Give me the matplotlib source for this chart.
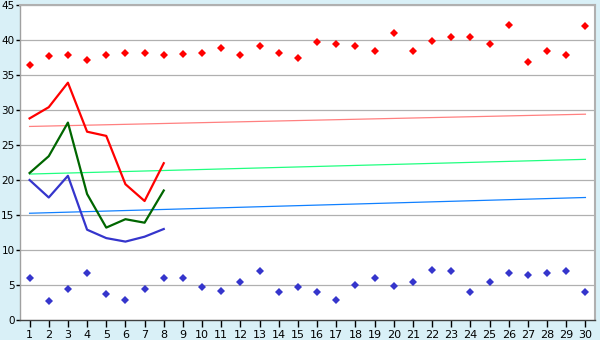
"""measured series with scatter bands and linear trends"""

from matplotlib import pyplot as plt

days = list(range(1, 31))

upper_points = [36.4, 37.7, 37.8, 37.2, 37.8, 38.2, 38.2, 37.8, 38.0, 38.2,
                38.8, 37.8, 39.2, 38.2, 37.4, 39.7, 39.4, 39.2, 38.4, 41.0,
                38.5, 39.8, 40.4, 40.4, 39.4, 42.2, 36.8, 38.4, 37.8, 42.0]
lower_points = [6.0, 2.7, 4.4, 6.7, 3.7, 2.8, 4.4, 6.0, 6.0, 4.7,
                4.2, 5.4, 7.0, 4.0, 4.7, 4.0, 2.8, 5.0, 6.0, 4.8,
                5.4, 7.2, 7.0, 4.0, 5.4, 6.7, 6.4, 6.7, 7.0, 4.0]

line_days = [1, 2, 3, 4, 5, 6, 7, 8]
red_line = [28.8, 30.4, 33.9, 26.9, 26.3, 19.4, 17.0, 22.4]
green_line = [21.0, 23.4, 28.2, 18.0, 13.2, 14.4, 13.9, 18.5]
blue_line = [20.0, 17.5, 20.6, 12.9, 11.7, 11.2, 11.9, 13.0]

trend_days = [1, 30]
red_trend = [27.65, 29.4]
green_trend = [20.85, 22.95]
blue_trend = [15.25, 17.5]

plt.rcParams["font.family"] = "DejaVu Sans"
plt.rcParams["font.size"] = 7.5

fig = plt.figure(figsize=(6, 3.4), dpi=100, facecolor="#d9f0f7")
ax = fig.add_axes([20/600, 20/340, 575/600, 315/340])
ax.set_facecolor("white")

for y in range(5, 50, 5):
	ax.axhline(y, color="#b0b0b0", linewidth=0.9, zorder=1)

ax.plot(trend_days, red_trend, color="#ff8080", linewidth=0.9, zorder=2)
ax.plot(trend_days, green_trend, color="#20ff80", linewidth=0.9, zorder=2)
ax.plot(trend_days, blue_trend, color="#1080ff", linewidth=0.9, zorder=2)

ax.plot(line_days, red_line, color="#ff0000", linewidth=1.6, zorder=3)
ax.plot(line_days, green_line, color="#006600", linewidth=1.6, zorder=3)
ax.plot(line_days, blue_line, color="#3535cc", linewidth=1.6, zorder=3)

ax.plot(days, upper_points, linestyle="none", marker="D", markersize=4,
	color="#ff0000", markeredgewidth=0, zorder=4)
ax.plot(days, lower_points, linestyle="none", marker="D", markersize=4,
	color="#3535cc", markeredgewidth=0, zorder=4)

ax.set_xlim(0.5, 30.5)
ax.set_ylim(0, 45)
ax.set_xticks(days)
ax.set_yticks(range(0, 50, 5))
ax.tick_params(axis="x", length=5, width=1, pad=2, colors="black", labelsize=8)
ax.tick_params(axis="y", length=3, width=1, pad=1, colors="black")

for side in ["top", "right"]:
	ax.spines[side].set_color("#b0b0b0")
	ax.spines[side].set_linewidth(1.5)
ax.spines["left"].set_color("#a0a0a0")
ax.spines["left"].set_linewidth(1)
ax.spines["bottom"].set_color("#404040")
ax.spines["bottom"].set_linewidth(1)

fig.savefig("out.png", dpi=100, facecolor=fig.get_facecolor())
